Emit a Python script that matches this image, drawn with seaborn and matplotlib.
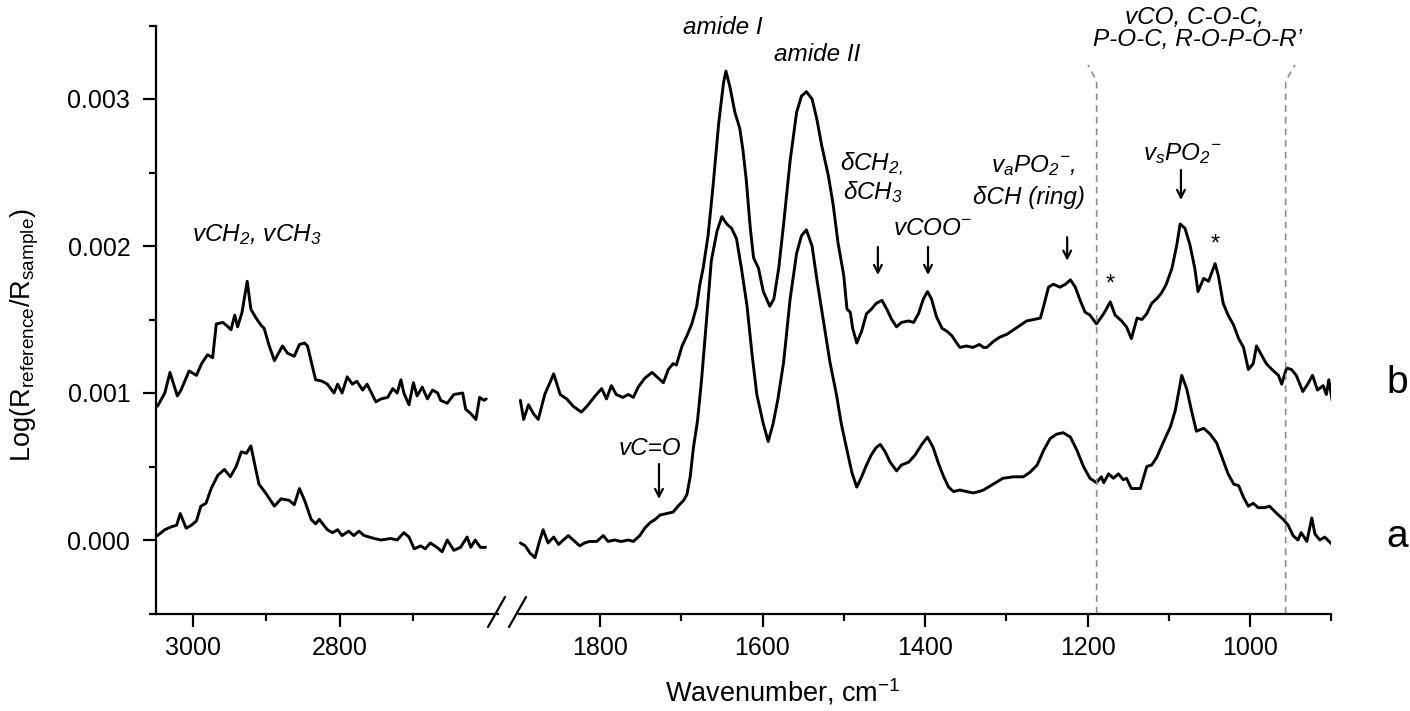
import numpy as np
import pandas as pd
import matplotlib
matplotlib.use("Agg")
import matplotlib.pyplot as plt
from matplotlib.ticker import FixedLocator, FixedFormatter
from matplotlib.lines import Line2D
import seaborn as sns

SCALE = 1e-3  # values below are in units of 0.001

# ---- C-H stretching region (left panel) ----
wn_ch_b = [3048, 3038, 3031, 3021, 3016, 3005, 2995, 2988, 2980, 2973, 2968, 2959, 2952, 2948,
           2943, 2939, 2933, 2926, 2921, 2914, 2907, 2903, 2896, 2889, 2878, 2871, 2862, 2855,
           2848, 2844, 2833, 2824, 2817, 2808, 2803, 2797, 2790, 2783, 2777, 2769, 2763, 2756,
           2751, 2744, 2735, 2728, 2722, 2717, 2713, 2706, 2700, 2695, 2688, 2681, 2674, 2667,
           2663, 2654, 2645, 2633, 2629, 2622, 2615, 2610, 2604, 2601]
abs_ch_b = [0.91, 1.00, 1.14, 0.98, 1.02, 1.15, 1.12, 1.20, 1.26, 1.24, 1.47, 1.48, 1.45, 1.43,
            1.53, 1.45, 1.55, 1.76, 1.57, 1.51, 1.46, 1.44, 1.32, 1.22, 1.32, 1.27, 1.25, 1.33,
            1.34, 1.32, 1.09, 1.08, 1.06, 1.00, 1.06, 1.00, 1.11, 1.06, 1.08, 1.02, 1.06, 0.99,
            0.94, 0.96, 0.97, 1.03, 1.00, 1.09, 1.00, 0.92, 1.07, 0.98, 1.04, 0.96, 1.02, 1.00,
            0.95, 0.93, 0.99, 1.00, 0.89, 0.86, 0.82, 0.97, 0.95, 0.96]

wn_ch_a = [3048, 3038, 3029, 3022, 3017, 3009, 3002, 2995, 2989, 2982, 2975, 2966, 2957, 2949,
           2941, 2934, 2927, 2921, 2916, 2910, 2901, 2889, 2880, 2869, 2862, 2855, 2848, 2839,
           2833, 2828, 2817, 2810, 2803, 2797, 2788, 2781, 2774, 2767, 2753, 2744, 2731, 2722,
           2713, 2706, 2699, 2690, 2684, 2677, 2668, 2661, 2654, 2645, 2636, 2627, 2622, 2616,
           2609, 2602]
abs_ch_a = [0.03, 0.07, 0.09, 0.10, 0.18, 0.08, 0.10, 0.13, 0.23, 0.25, 0.35, 0.44, 0.48, 0.43,
            0.50, 0.60, 0.59, 0.64, 0.52, 0.38, 0.32, 0.23, 0.28, 0.27, 0.24, 0.35, 0.27, 0.14,
            0.11, 0.14, 0.07, 0.05, 0.07, 0.03, 0.06, 0.03, 0.06, 0.03, 0.01, 0.00, 0.01, 0.00,
            0.05, 0.02, -0.06, -0.04, -0.06, -0.02, -0.05, -0.08, 0.00, -0.07, -0.05, 0.02, -0.05, 0.00,
            -0.05, -0.05]

# ---- fingerprint region (right panel) ----
wn_fp_b = [1898, 1894, 1888, 1882, 1876, 1868, 1857, 1849, 1841, 1833, 1823, 1816, 1806, 1798,
           1792, 1786, 1780, 1772, 1765, 1759, 1753, 1745, 1736, 1728, 1722, 1716, 1710, 1706,
           1699, 1693, 1687, 1681, 1677, 1673, 1667, 1661, 1654, 1648, 1645, 1640, 1634, 1628,
           1624, 1620, 1615, 1611, 1605, 1599, 1591, 1586, 1580, 1574, 1566, 1558, 1552, 1546,
           1539, 1533, 1527, 1519, 1513, 1507, 1500, 1496, 1492, 1489, 1484, 1478, 1472, 1466,
           1460, 1453, 1447, 1441, 1435, 1429, 1420, 1414, 1408, 1402, 1397, 1392, 1386, 1379,
           1373, 1367, 1361, 1357, 1349, 1341, 1333, 1328, 1324, 1316, 1308, 1299, 1291, 1283,
           1275, 1266, 1258, 1254, 1248, 1242, 1234, 1227, 1221, 1215, 1209, 1203, 1197, 1189,
           1180, 1172, 1166, 1158, 1152, 1146, 1139, 1133, 1127, 1121, 1115, 1109, 1103, 1096,
           1090, 1086, 1080, 1074, 1068, 1064, 1057, 1051, 1047, 1043, 1039, 1033, 1027, 1020,
           1014, 1008, 1002, 996, 992, 986, 980, 973, 965, 961, 955, 949, 943, 935,
           929, 923, 917, 910, 906, 903, 899]
abs_fp_b = [0.95, 0.82, 0.92, 0.86, 0.82, 0.99, 1.13, 0.99, 0.96, 0.91, 0.87, 0.91, 0.98, 1.03,
            0.96, 1.05, 0.99, 0.97, 0.99, 0.97, 1.04, 1.10, 1.14, 1.10, 1.07, 1.16, 1.20, 1.19,
            1.32, 1.39, 1.47, 1.59, 1.74, 1.85, 2.07, 2.40, 2.83, 3.11, 3.19, 3.08, 2.91, 2.80,
            2.65, 2.45, 2.12, 1.92, 1.85, 1.69, 1.59, 1.64, 1.85, 2.15, 2.58, 2.91, 3.02, 3.05,
            3.00, 2.86, 2.68, 2.48, 2.28, 2.02, 1.80, 1.57, 1.55, 1.44, 1.34, 1.42, 1.54, 1.57,
            1.61, 1.63, 1.57, 1.50, 1.45, 1.48, 1.49, 1.48, 1.54, 1.64, 1.69, 1.64, 1.52, 1.44,
            1.42, 1.39, 1.34, 1.31, 1.32, 1.31, 1.33, 1.31, 1.31, 1.35, 1.38, 1.40, 1.43, 1.46,
            1.49, 1.50, 1.51, 1.59, 1.72, 1.74, 1.72, 1.74, 1.77, 1.72, 1.63, 1.55, 1.53, 1.47,
            1.54, 1.62, 1.53, 1.49, 1.45, 1.37, 1.51, 1.50, 1.54, 1.61, 1.64, 1.68, 1.74, 1.85,
            2.01, 2.15, 2.12, 2.01, 1.85, 1.69, 1.78, 1.76, 1.82, 1.88, 1.80, 1.61, 1.53, 1.46,
            1.37, 1.31, 1.16, 1.20, 1.32, 1.26, 1.20, 1.16, 1.12, 1.06, 1.17, 1.16, 1.12, 1.01,
            1.06, 1.12, 1.02, 1.05, 0.99, 1.09, 0.95]

wn_fp_a = [1898, 1892, 1886, 1880, 1874, 1870, 1864, 1857, 1851, 1845, 1839, 1833, 1825, 1819,
           1813, 1804, 1796, 1790, 1782, 1774, 1765, 1759, 1751, 1745, 1738, 1732, 1726, 1718,
           1710, 1704, 1697, 1693, 1689, 1685, 1680, 1675, 1669, 1663, 1656, 1650, 1644, 1638,
           1632, 1626, 1619, 1613, 1607, 1599, 1593, 1587, 1581, 1574, 1566, 1558, 1552, 1546,
           1539, 1533, 1525, 1517, 1509, 1503, 1496, 1490, 1484, 1478, 1472, 1466, 1460, 1455,
           1449, 1443, 1435, 1429, 1420, 1412, 1404, 1397, 1390, 1384, 1377, 1371, 1365, 1357,
           1349, 1341, 1333, 1328, 1316, 1304, 1291, 1279, 1271, 1262, 1254, 1246, 1238, 1230,
           1221, 1213, 1205, 1197, 1189, 1183, 1180, 1174, 1168, 1162, 1156, 1152, 1146, 1135,
           1127, 1121, 1115, 1107, 1098, 1092, 1084, 1078, 1072, 1066, 1057, 1049, 1041, 1035,
           1027, 1020, 1014, 1008, 1002, 996, 990, 982, 976, 967, 959, 953, 947, 941,
           937, 930, 924, 920, 914, 908, 899]
abs_fp_a = [-0.02, -0.04, -0.09, -0.12, 0.00, 0.07, -0.02, 0.02, -0.03, 0.00, 0.03, 0.00, -0.04, -0.02,
            -0.01, -0.01, 0.03, -0.01, 0.00, -0.01, 0.00, -0.01, 0.03, 0.08, 0.12, 0.14, 0.17, 0.18,
            0.19, 0.23, 0.27, 0.31, 0.43, 0.63, 0.81, 1.09, 1.49, 1.90, 2.10, 2.20, 2.15, 2.12,
            2.05, 1.85, 1.59, 1.27, 0.99, 0.79, 0.67, 0.79, 0.96, 1.21, 1.64, 1.95, 2.07, 2.11,
            2.00, 1.77, 1.49, 1.21, 0.99, 0.79, 0.61, 0.46, 0.36, 0.43, 0.51, 0.58, 0.63, 0.65,
            0.60, 0.53, 0.47, 0.51, 0.53, 0.58, 0.65, 0.70, 0.63, 0.53, 0.43, 0.36, 0.33, 0.34,
            0.33, 0.32, 0.33, 0.34, 0.38, 0.42, 0.43, 0.43, 0.46, 0.51, 0.61, 0.69, 0.72, 0.73,
            0.70, 0.61, 0.50, 0.42, 0.39, 0.43, 0.39, 0.45, 0.42, 0.45, 0.41, 0.42, 0.35, 0.35,
            0.50, 0.51, 0.56, 0.66, 0.77, 0.88, 1.12, 1.03, 0.88, 0.74, 0.76, 0.72, 0.66, 0.57,
            0.45, 0.38, 0.37, 0.29, 0.23, 0.25, 0.22, 0.22, 0.23, 0.18, 0.14, 0.10, 0.03, 0.00,
            0.05, -0.01, 0.15, 0.04, 0.00, 0.02, -0.03]

y_major = [0.0, 0.001, 0.002, 0.003]
y_major_labels = ["0.000", "0.001", "0.002", "0.003"]
y_minor = [-0.0005, 0.0005, 0.0015, 0.0025, 0.0035]
xl_major = [3000, 2800]
xl_minor = [2900, 2700]
xr_major = [1800, 1600, 1400, 1200, 1000]
xr_minor = [1700, 1500, 1300, 1100, 900]

# ---------------- style ----------------
sns.set_style("ticks")
plt.rcParams["font.family"] = ["Liberation Sans", "DejaVu Sans"]
plt.rcParams["mathtext.fontset"] = "custom"
plt.rcParams["mathtext.rm"] = "Liberation Sans"
plt.rcParams["mathtext.it"] = "Liberation Sans:italic"
plt.rcParams["mathtext.bf"] = "Liberation Sans:bold"
plt.rcParams["axes.linewidth"] = 1.6
plt.rcParams["axes.edgecolor"] = "black"
plt.rcParams["text.color"] = "black"
plt.rcParams["axes.labelcolor"] = "black"
plt.rcParams["xtick.color"] = "black"
plt.rcParams["ytick.color"] = "black"

W, H = 1410, 711
fig = plt.figure(figsize=(W / 100, H / 100), dpi=100)
bottom = 97.5 / H
height = 588 / H
ax_l = fig.add_axes([156 / W, bottom, 342 / W, height])
ax_r = fig.add_axes([518.75 / W, bottom, 812.5 / W, height], sharey=ax_l)

LW = 2.1
df_l = pd.concat([
    pd.DataFrame({"wn": wn_ch_b, "A": np.array(abs_ch_b) * SCALE, "s": "b"}),
    pd.DataFrame({"wn": wn_ch_a, "A": np.array(abs_ch_a) * SCALE, "s": "a"}),
])
df_r = pd.concat([
    pd.DataFrame({"wn": wn_fp_b, "A": np.array(abs_fp_b) * SCALE, "s": "b"}),
    pd.DataFrame({"wn": wn_fp_a, "A": np.array(abs_fp_a) * SCALE, "s": "a"}),
])
pal = {"a": "#000000", "b": "#000000"}
line_kw = dict(sort=False, estimator=None, lw=LW, legend=False, solid_joinstyle="round")
sns.lineplot(data=df_l, x="wn", y="A", hue="s", palette=pal, ax=ax_l, **line_kw)
sns.lineplot(data=df_r, x="wn", y="A", hue="s", palette=pal, ax=ax_r, **line_kw)

ax_l.set_xlim(3050, 2585)
ax_r.set_xlim(1900, 900)
ax_l.set_ylim(-0.0005, 0.0035)

for ax in (ax_l, ax_r):
    ax.set_xlabel("")
    ax.set_ylabel("")
    ax.spines["top"].set_visible(False)
    ax.spines["right"].set_visible(False)
    ax.tick_params(axis="both", which="major", direction="out", length=9.5, width=1.6,
                   labelsize=18, color="black", labelcolor="black")
    ax.tick_params(axis="both", which="minor", direction="out", length=5, width=1.6,
                   color="black")
    ax.tick_params(axis="x", which="major", pad=7)
    ax.patch.set_alpha(0)

ax_l.xaxis.set_major_locator(FixedLocator(xl_major))
ax_l.xaxis.set_minor_locator(FixedLocator(xl_minor))
ax_r.xaxis.set_major_locator(FixedLocator(xr_major))
ax_r.xaxis.set_minor_locator(FixedLocator(xr_minor))
ax_l.yaxis.set_major_locator(FixedLocator(y_major))
ax_l.yaxis.set_major_formatter(FixedFormatter(y_major_labels))
ax_l.yaxis.set_minor_locator(FixedLocator(y_minor))
ax_l.tick_params(axis="y", which="major", pad=9)

ax_r.spines["left"].set_visible(False)
ax_r.tick_params(axis="y", which="both", left=False, labelleft=False)

# break marks on the x axis
for x1, x2 in [(488, 505), (509, 526)]:
    fig.add_artist(Line2D([x1 / W, x2 / W], [1 - 627 / H, 1 - 597 / H],
                          transform=fig.transFigure, color="black", lw=1.6))

# axis labels
fig.text(783 / W, 1 - 692 / H, "Wavenumber, cm$^{-1}$", ha="center", va="center",
         fontsize=19.5, color="black")
fig.text(25 / W, 1 - 335 / H,
         r"Log(R$_\mathregular{reference}$/R$_\mathregular{sample}$)",
         rotation=90, ha="center", va="center", fontsize=19.5, color="black")

# dashed region markers
dash_kw = dict(color="#8c8c8c", lw=1.2, ls=(0, (4, 3)), clip_on=False)
ax_r.plot([1188.7, 1188.7, 1199.4], [-0.0005, 0.003122, 0.003231], **dash_kw)
ax_r.plot([956.1, 956.1, 944.6], [-0.0005, 0.003122, 0.003231], **dash_kw)

# annotations
T = dict(fontsize=17.5, fontstyle="italic", color="black")
ax_l.text(2913, 0.002075, r"vCH$_\mathregular{2}$, vCH$_\mathregular{3}$", ha="center", va="center", **T)
ax_r.text(1648.6, 0.003483, "amide I", ha="center", va="center", **T)
ax_r.text(1533, 0.00330, "amide II", ha="center", va="center", **T)
ax_r.text(1504.6, 0.002558, r"δCH$_\mathregular{2,}$", ha="left", va="center", **T)
ax_r.text(1501, 0.002367, r"δCH$_\mathregular{3}$", ha="left", va="center", **T)
ax_r.text(1439, 0.002116, r"vCOO$^\mathregular{-}$", ha="left", va="center", **T)
ax_r.text(1738.5, 0.00062, "vC=O", ha="center", va="center", **T)
ax_r.text(1267, 0.002544, r"v$_\mathregular{a}$PO$_\mathregular{2}$$^\mathregular{-}$,", ha="center", va="center", **T)
ax_r.text(1272, 0.00233, "δCH (ring)", ha="center", va="center", **T)
ax_r.text(1083.7, 0.002626, r"v$_\mathregular{s}$PO$_\mathregular{2}$$^\mathregular{-}$", ha="center", va="center", **T)
ax_r.text(1068.9, 0.003552, "vCO, C-O-C,", ha="center", va="center", **T)
ax_r.text(1065, 0.003405, "P-O-C, R-O-P-O-R\u2019", ha="center", va="center", **T)
ax_r.text(1172, 0.00174, "*", ha="center", va="center", fontsize=17, color="black")
ax_r.text(1043, 0.00201, "*", ha="center", va="center", fontsize=17, color="black")
ax_r.text(819, 0.001068, "b", ha="center", va="center", fontsize=28, color="black")
ax_r.text(819, 0.00002, "a", ha="center", va="center", fontsize=28, color="black")

arrows = [(1458, 0.001993, 0.001803), (1396.3, 0.001993, 0.001803),
          (1727.4, 0.000517, 0.000279), (1225, 0.00206, 0.00190),
          (1085, 0.002517, 0.002313)]
for xw, y0, y1 in arrows:
    ax_r.annotate("", xy=(xw, y1), xytext=(xw, y0),
                  arrowprops=dict(arrowstyle="->,head_length=0.55,head_width=0.28",
                                  lw=1.6, color="black", shrinkA=0, shrinkB=0))

fig.savefig("out.png", dpi=100)
